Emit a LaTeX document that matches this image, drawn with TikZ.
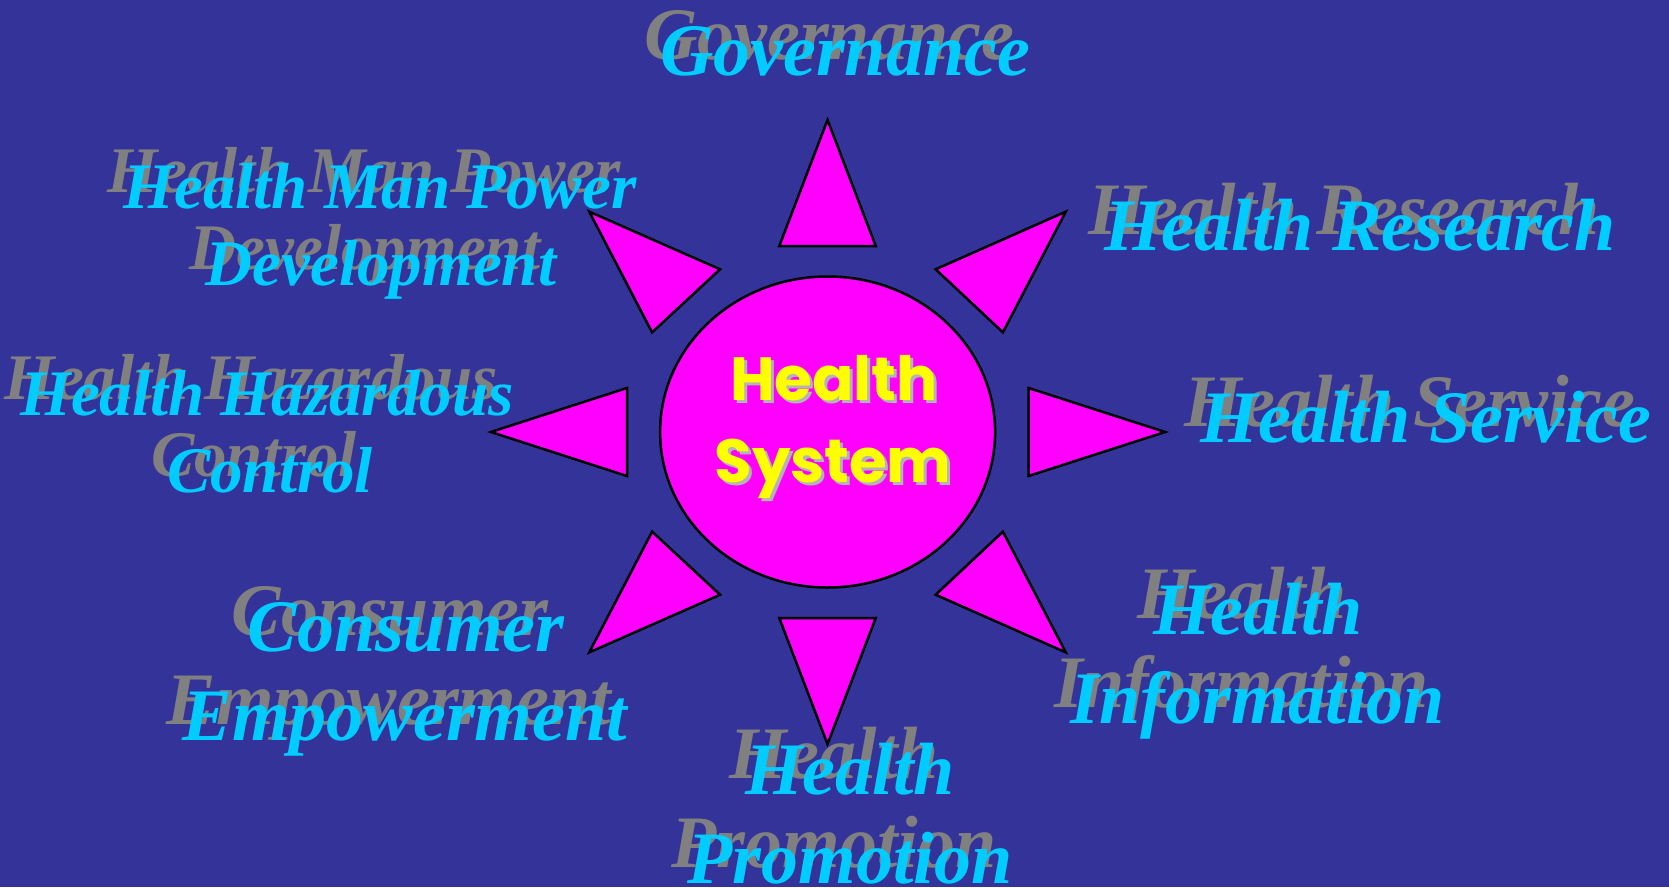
\documentclass[tikz,border=0pt]{standalone}
\usepackage{fontspec}
\setmainfont{Liberation Serif}
\newfontfamily\hubfont{Poppins}
\usetikzlibrary{shapes.geometric}
\definecolor{bgblue}{HTML}{333399}
\definecolor{sunmag}{HTML}{FF00FF}
\definecolor{labcyan}{HTML}{00CCFF}
\definecolor{labgray}{HTML}{808080}
\definecolor{hubyellow}{HTML}{FFFF00}
\definecolor{hubshadow}{HTML}{B4B4B4}
\newcommand\shadowlab[5]{%
  \node[#2, text=labgray] (#1-s) at ({#3-16},{#4-16}) {#5};
  \node[#2, text=labcyan] (#1) at (#3,#4) {#5};
}
\begin{document}
\begin{tikzpicture}[x=1pt,y=-1pt,
  ray/.style={fill=sunmag, draw=black, line width=2.5pt, line join=miter},
  biglab/.style={font=\fontsize{74}{88}\selectfont\bfseries\itshape, inner sep=0pt, anchor=base},
  smalllab/.style={font=\fontsize{65}{77}\selectfont\bfseries\itshape, inner sep=0pt, anchor=base},
  hubtext/.style={font=\hubfont\fontsize{61}{74}\selectfont\bfseries, inner sep=0pt, anchor=base}]
\fill[bgblue] (0,0) rectangle (1669,887);
\useasboundingbox (0,0) rectangle (1669,887);

% rays
\draw[ray] (827.5,120) -- (779.3,246) -- (875.7,246) -- cycle;
\draw[ray] (779.3,618) -- (875.7,618) -- (827.5,744) -- cycle;
\draw[ray] (491,432) -- (627,388) -- (627,476) -- cycle;
\draw[ray] (1028.5,388) -- (1028.5,476) -- (1165,432) -- cycle;
\draw[ray] (589.3,211.7) -- (720,269.3) -- (652.1,332.3) -- cycle;
\draw[ray] (1065.7,211.7) -- (935.7,269.3) -- (1002.9,332.3) -- cycle;
\draw[ray] (652.1,531.7) -- (720,594.7) -- (589.3,652.3) -- cycle;
\draw[ray] (1002.9,531.7) -- (935.7,594.7) -- (1065.7,652.3) -- cycle;

% hub
\node[ray, ellipse, minimum width=335pt, minimum height=311pt, inner sep=0pt] (hub) at (827.6,432) {};
\node[hubtext, text=hubshadow] (hub1-s) at (837,403) {Health};
\node[hubtext, text=hubyellow] (hub1) at (834,400) {Health};
\node[hubtext, text=hubshadow] (hub2-s) at (836,485) {System};
\node[hubtext, text=hubyellow] (hub2) at (833,482) {System};

% labels
\shadowlab{gov}{biglab}{845}{75}{Governance}
\shadowlab{hmp1}{smalllab}{380}{208}{Health Man Power}
\shadowlab{hmp2}{smalllab}{381}{285}{Development}
\shadowlab{hres}{biglab}{1360}{250}{Health Research}
\shadowlab{hhc1}{smalllab}{267}{415}{Health Hazardous}
\shadowlab{hhc2}{smalllab}{270}{492}{Control}
\shadowlab{hser}{biglab}{1426}{442}{Health Service}
\shadowlab{ce1}{biglab}{406}{651.5}{Consumer}
\shadowlab{ce2}{biglab}{405}{740}{Empowerment}
\shadowlab{hi1}{biglab}{1258}{634}{Health}
\shadowlab{hi2}{biglab}{1258}{723}{Information}
\shadowlab{hp1}{biglab}{850}{794}{Health}
\shadowlab{hp2}{biglab}{850}{883}{Promotion}
\end{tikzpicture}
\end{document}
